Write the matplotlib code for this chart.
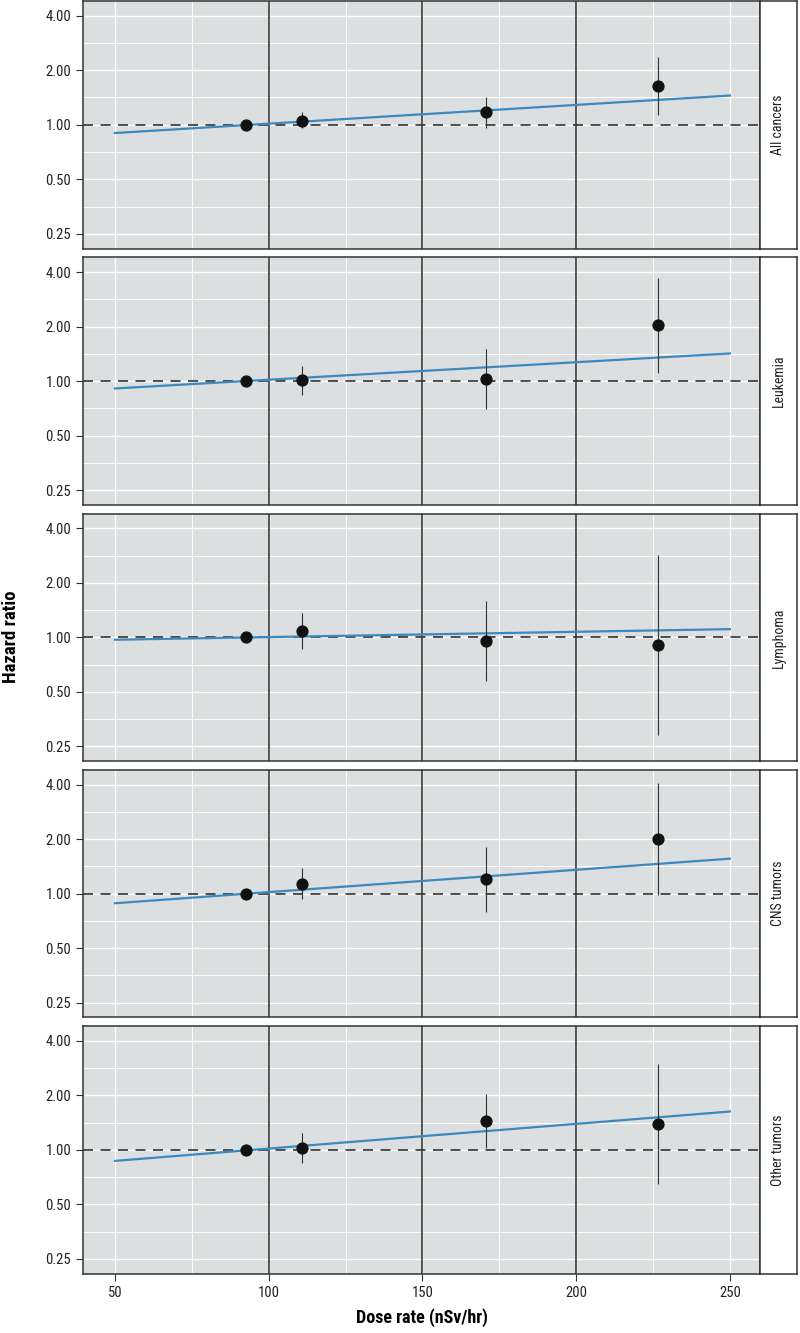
import numpy as np
import matplotlib
matplotlib.use('Agg')
import matplotlib.pyplot as plt
from matplotlib.ticker import FixedLocator, FixedFormatter, NullFormatter

plt.rcParams['font.family'] = ['Roboto Condensed', 'Liberation Sans Narrow', 'Lato', 'DejaVu Sans']

# data
outcomes = ['All cancers', 'Leukemia', 'Lymphoma', 'CNS tumors', 'Other tumors']
dose = [92.7, 110.7, 170.6, 226.7]
hr = [[1.00, 1.05, 1.17, 1.64],
      [1.00, 1.01, 1.03, 2.03],
      [1.00, 1.08, 0.96, 0.91],
      [1.00, 1.13, 1.20, 2.00],
      [1.00, 1.03, 1.44, 1.39]]
hr_lo = [[1.00, 0.96, 0.96, 1.13],
         [1.00, 0.84, 0.70, 1.11],
         [1.00, 0.86, 0.575, 0.29],
         [1.00, 0.93, 0.79, 0.98],
         [1.00, 0.85, 1.02, 0.65]]
hr_hi = [[1.00, 1.17, 1.42, 2.38],
         [1.00, 1.21, 1.50, 3.70],
         [1.00, 1.36, 1.58, 2.85],
         [1.00, 1.39, 1.81, 4.07],
         [1.00, 1.24, 2.03, 2.97]]
# fitted log-linear trend, value at 50 and 250 nSv/hr
trend_x = [50, 250]
trend_hr = [[0.90, 1.45],
            [0.91, 1.42],
            [0.97, 1.11],
            [0.885, 1.56],
            [0.87, 1.63]]

y_ticks = [0.25, 0.5, 1, 2, 4]
y_labels = ['0.25', '0.50', '1.00', '2.00', '4.00']
x_ticks = [50, 100, 150, 200, 250]
cut_points = [100, 150, 200]

W, H = 800, 1333
bg = '#dcdfe0'
edge = '#333333'
blue = '#3a8ac0'

fig = plt.figure(figsize=(W / 100, H / 100), dpi=100)

def rect(left, top, w, h):
    return [left / W, 1 - (top + h) / H, w / W, h / H]

left, width, strip_w = 83, 677, 37
pitch, height = 256.3, 247.5

for i, name in enumerate(outcomes):
    top = 1 + i * pitch
    ax = fig.add_axes(rect(left, top, width, height))
    ax.set_facecolor(bg)
    ax.set_yscale('log', base=2)
    ax.set_xlim(39.6, 259.8)
    ax.set_ylim(2 ** -2.27, 2 ** 2.27)

    ax.yaxis.set_major_locator(FixedLocator(y_ticks))
    ax.yaxis.set_major_formatter(FixedFormatter(y_labels))
    ax.yaxis.set_minor_locator(FixedLocator([2 ** -1.5, 2 ** -0.5, 2 ** 0.5, 2 ** 1.5]))
    ax.yaxis.set_minor_formatter(NullFormatter())
    ax.xaxis.set_major_locator(FixedLocator(x_ticks))
    ax.xaxis.set_minor_locator(FixedLocator([75, 125, 175, 225]))

    ax.grid(which='major', color='white', linewidth=1.0)
    ax.grid(which='minor', color='white', linewidth=0.7)
    ax.set_axisbelow(True)

    for c in cut_points:
        ax.axvline(c, color='#2b2b2b', linewidth=1.1, zorder=1.5)
    ax.axhline(1, color='#333333', linewidth=1.2, dashes=(6, 4.5), zorder=1.6)

    ax.plot(trend_x, trend_hr[i], color=blue, linewidth=1.6, zorder=2)
    ax.vlines(dose, hr_lo[i], hr_hi[i], color='#333333', linewidth=0.8, zorder=3)
    ax.plot(dose, hr[i], 'o', color='#111111', markersize=7.8, zorder=4)

    ax.tick_params(axis='both', which='major', direction='out', length=5, width=0.8,
                   color=edge, labelcolor='#222222', labelsize=10.5)
    ax.tick_params(axis='both', which='minor', length=0)
    if i < len(outcomes) - 1:
        ax.tick_params(axis='x', which='major', length=0, labelbottom=False)
    for s in ax.spines.values():
        s.set_color(edge)
        s.set_linewidth(1.1)

    sx = fig.add_axes(rect(left + width, top, strip_w, height))
    sx.set_facecolor('white')
    sx.set_xticks([])
    sx.set_yticks([])
    for s in sx.spines.values():
        s.set_color(edge)
        s.set_linewidth(1.1)
    sx.text(0.5, 0.5, name, rotation=90, ha='center', va='center',
            fontsize=10, color='#222222', transform=sx.transAxes)

fig.text((left + width / 2) / W, 1 - 1318 / H, 'Dose rate (nSv/hr)',
         ha='center', va='center', fontsize=13, fontweight='bold')
fig.text(11 / W, 1 - 637 / H, 'Hazard ratio', rotation=90,
         ha='center', va='center', fontsize=13.5, fontweight='bold')

fig.savefig('out.png', dpi=100)
